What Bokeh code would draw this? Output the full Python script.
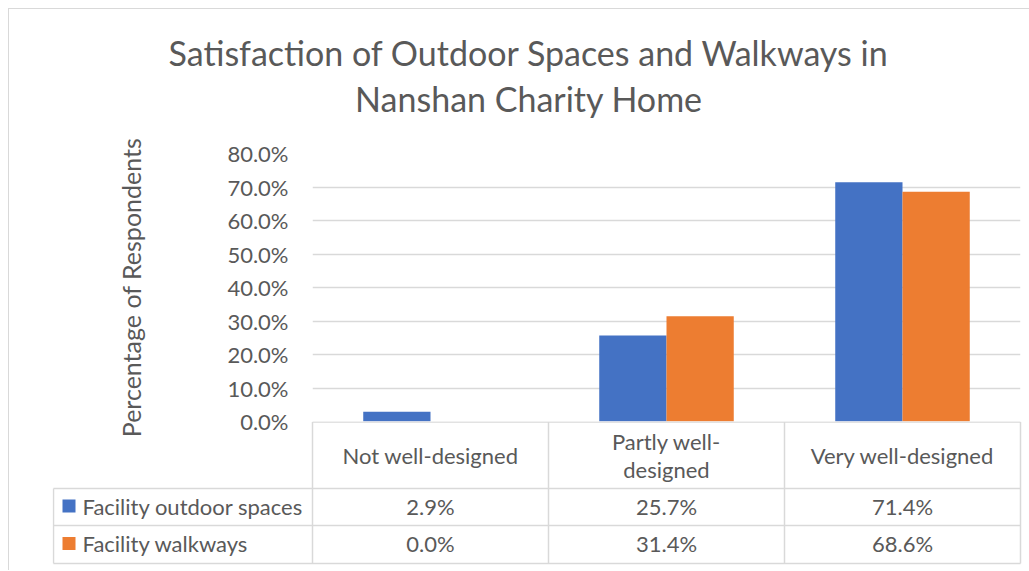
import numpy as np
from bokeh.plotting import figure
from bokeh.models import Range1d, FixedTicker, PrintfTickFormatter, ColumnDataSource
from bokeh.layouts import column
from bokeh.embed import file_html
from bokeh.resources import INLINE
from bokeh.core.properties import value

# ---------------- data ----------------
categories = ["Not well-designed", "Partly well-designed", "Very well-designed"]
header_labels = ["Not well-designed", "Partly well-\ndesigned", "Very well-designed"]
series_names = ["Facility outdoor spaces", "Facility walkways"]
outdoor_spaces = [2.9, 25.7, 71.4]
walkways = [0.0, 31.4, 68.6]
y_ticks = [0, 10, 20, 30, 40, 50, 60, 70, 80]
title_lines = ["Satisfaction of Outdoor Spaces and Walkways in", "Nanshan Charity Home"]
y_label = "Percentage of Respondents"

# ---------------- style ----------------
FONT = "Lato"
TXT = "#595959"
GRID = "#D9D9D9"
COLORS = ["#4472C4", "#ED7D31"]
CAT_PX = 236.0          # pixel width of one category
BAR_W = 0.285           # bar width in category units
W = 1020
OVERLAP = 24            # extra canvas below chart frame (for axis texts)

n = len(categories)
idx = np.arange(n)

# ---------------- title ----------------
pT = figure(width=W, height=121, x_range=Range1d(0, W), y_range=Range1d(121, 0),
            output_backend="svg", toolbar_location=None,
            min_border_left=0, min_border_right=0, min_border_top=0, min_border_bottom=0)
pT.outline_line_color = None
pT.axis.visible = False
pT.grid.visible = False
pT.text(x=[519.5, 519.5], y=[43, 89], text=title_lines, text_align="center",
        text_baseline="alphabetic", text_font=value(FONT), text_font_size=value("34px"),
        text_color=TXT)

# ---------------- chart ----------------
pA = figure(width=W, height=291 + OVERLAP, x_range=Range1d(0, n), y_range=Range1d(0, 80),
            output_backend="svg", toolbar_location=None,
            min_border_left=303, min_border_right=9, min_border_top=23,
            min_border_bottom=OVERLAP)
pA.outline_line_color = None
pA.xaxis.visible = False
pA.xgrid.visible = False
pA.ygrid.grid_line_color = GRID
pA.ygrid.grid_line_width = 1.5

ya = pA.yaxis[0]
ya.ticker = FixedTicker(ticks=y_ticks)
ya.formatter = PrintfTickFormatter(format="%.1f%%")
ya.axis_line_color = None
ya.major_tick_line_color = None
ya.minor_tick_line_color = None
ya.major_label_standoff = 18
ya.major_label_text_font = FONT
ya.major_label_text_font_size = "22px"
ya.major_label_text_color = TXT
ya.axis_label = y_label
ya.axis_label_text_font = FONT
ya.axis_label_text_font_size = "25px"
ya.axis_label_text_font_style = "normal"
ya.axis_label_text_color = TXT
ya.axis_label_standoff = 78

src = ColumnDataSource(dict(
    x_out=idx + 0.5 - BAR_W / 2,
    x_walk=idx + 0.5 + BAR_W / 2,
    outdoor=outdoor_spaces,
    walk=walkways,
))
pA.vbar(x="x_out", top="outdoor", width=BAR_W, source=src, fill_color=COLORS[0], line_color=None)
pA.vbar(x="x_walk", top="walk", width=BAR_W, source=src, fill_color=COLORS[1], line_color=None)

# ---------------- data table ----------------
left_u = -259 / CAT_PX
pB = figure(width=W, height=149, x_range=Range1d(-260 / CAT_PX, (W + 9 - 312) / CAT_PX),
            y_range=Range1d(149, 0), output_backend="svg", toolbar_location=None,
            min_border_left=43, min_border_right=0, min_border_top=0, min_border_bottom=0)
pB.outline_line_color = None
pB.background_fill_color = None
pB.border_fill_color = None
pB.axis.visible = False
pB.grid.visible = False

row_top = [0.5, 67, 104]
row_bot = 142
row_mid = [34, 84.5, 122]

x0 = [0] + [left_u] * 3 + list(range(n + 1)) + [left_u]
x1 = [n] * 4 + list(range(n + 1)) + [left_u]
y0 = [row_top[0], row_top[1], row_top[2], row_bot] + [row_top[0]] * (n + 1) + [row_top[1]]
y1 = [row_top[0], row_top[1], row_top[2], row_bot] + [row_bot] * (n + 1) + [row_bot]
pB.segment(x0=x0, y0=y0, x1=x1, y1=y1, line_color=GRID, line_width=1.5)

pB.text(x=idx + 0.5, y=[row_mid[0]] * n, text=header_labels, text_align="center",
        text_baseline="middle", text_font=value(FONT), text_font_size=value("22px"),
        text_color=TXT, text_line_height=1.05)

for r, vals in enumerate([outdoor_spaces, walkways]):
    pB.text(x=idx + 0.5, y=[row_mid[r + 1]] * n, text=[f"{v:.1f}%" for v in vals],
            text_align="center", text_baseline="middle", text_font=value(FONT),
            text_font_size=value("22px"), text_color=TXT)

key_u = (68.5 - 312) / CAT_PX
name_u = (82 - 312) / CAT_PX
pB.scatter(x=[key_u, key_u], y=row_mid[1:], marker="square", size=13,
           fill_color=COLORS, line_color=None)
pB.text(x=[name_u, name_u], y=row_mid[1:], text=series_names, text_align="left",
        text_baseline="middle", text_font=value(FONT), text_font_size=value("22px"),
        text_color=TXT)

layout = column(column(pT), column(pA), column(pB, styles={"margin-top": f"-{OVERLAP}px"}),
                spacing=0,
                styles={"margin-left": "8px", "margin-top": "8px",
                        "border-top": "1px solid #D9D9D9", "border-left": "1px solid #D9D9D9"})

open("out.html", "w").write(file_html(layout, INLINE))
